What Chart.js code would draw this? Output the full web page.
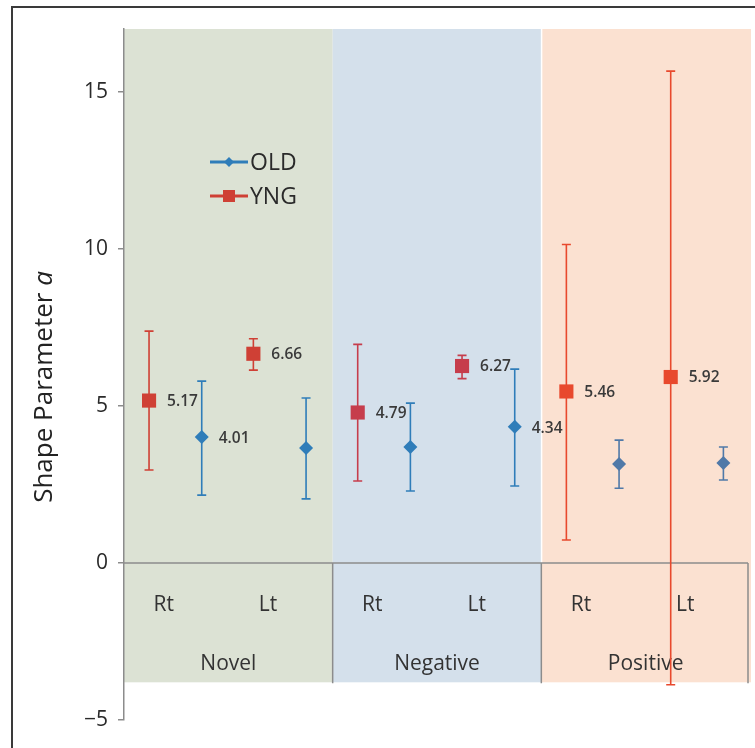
<!DOCTYPE html>
<html>
<head>
<meta charset="utf-8">
<style>
  html, body { margin: 0; padding: 0; background: #fff; }
  #wrap { width: 755px; height: 748px; }
</style>
<script src="https://cdn.jsdelivr.net/npm/chart.js@4/dist/chart.umd.min.js"></script>
</head>
<body>
<div id="wrap"><canvas id="chart" width="755" height="748"></canvas></div>
<script>
// groups and sides, two slots per group
const groups = ['Novel', 'Negative', 'Positive'];
const sides = ['Rt', 'Lt'];

// YNG (squares)
const yngMean = [5.17, 6.66, 4.79, 6.27, 5.46, 5.92];
const yngLow  = [2.96, 6.14, 2.61, 5.87, 0.73, -3.88];
const yngHigh = [7.38, 7.14, 6.96, 6.61, 10.14, 15.66];

// OLD (diamonds)
const oldMean = [4.01, 3.66, 3.69, 4.34, 3.15, 3.18];
const oldLow  = [2.16, 2.04, 2.29, 2.45, 2.38, 2.64];
const oldHigh = [5.79, 5.25, 5.09, 6.17, 3.91, 3.69];

// which points carry a value label
const yngLabelled = [0, 1, 2, 3, 4, 5];
const oldLabelled = [0, 3];

const yTicks = [-5, 0, 5, 10, 15];
const yMin = -5, yMax = 17;
const labelAreaBottom = -3.8;   // bands and category box end here

const bandColors = ['#dce2d4', '#d4e0eb', '#fbe1d1'];
const yngColors = ['#cf4035', '#cf4035', '#c63d4c', '#c63d4c', '#e8492d', '#e8492d'];
const oldColors = ['#2f7db9', '#2f7db9', '#2f7db9', '#2f7db9', '#5079a8', '#5079a8'];
const YNG_OFF = -0.26, OLD_OFF = 0.245;

const nSlots = groups.length * sides.length;
const slotX = i => i + 0.5;

const yngPoints = yngMean.map((v, i) => ({ x: slotX(i) + YNG_OFF, y: v }));
const oldPoints = oldMean.map((v, i) => ({ x: slotX(i) + OLD_OFF, y: v }));

const FONT = '"Open Sans", "Liberation Sans", sans-serif';

const decor = {
  id: 'decor',
  beforeDraw(chart) {
    const { ctx, chartArea: a, scales: { x, y } } = chart;
    ctx.save();
    // outer frame
    ctx.strokeStyle = '#3a3a3a';
    ctx.lineWidth = 2;
    ctx.strokeRect(12, 7, 800, 800);
    // group bands
    const top = y.getPixelForValue(yMax);
    const bot = y.getPixelForValue(labelAreaBottom);
    groups.forEach((g, gi) => {
      const l = x.getPixelForValue(gi * 2);
      const r = gi === groups.length - 1 ? a.right + 1 : x.getPixelForValue(gi * 2 + 2);
      ctx.fillStyle = bandColors[gi];
      ctx.fillRect(l, top, r - l, bot - top);
    });
    // thin white gap between negative and positive
    ctx.fillStyle = '#ffffff';
    ctx.fillRect(x.getPixelForValue(4) - 0.5, top, 1.5, y.getPixelForValue(0) - top);
    ctx.restore();
  },
  beforeDatasetsDraw(chart) {
    const { ctx, chartArea: a, scales: { x, y } } = chart;
    ctx.save();
    const y0 = y.getPixelForValue(0);
    const yb = y.getPixelForValue(labelAreaBottom);
    const right = x.getPixelForValue(nSlots) - 2;
    // category box lines
    ctx.strokeStyle = '#8c8c8c';
    ctx.lineWidth = 1.5;
    ctx.beginPath();
    ctx.moveTo(a.left, y0); ctx.lineTo(right, y0);
    for (let gi = 1; gi <= groups.length; gi++) {
      const px = gi === groups.length ? right : x.getPixelForValue(gi * 2);
      ctx.moveTo(px, y0); ctx.lineTo(px, yb + 1);
    }
    ctx.stroke();
    // side and group labels
    ctx.fillStyle = '#333';
    ctx.textAlign = 'center';
    ctx.textBaseline = 'middle';
    ctx.font = '21px ' + FONT;
    for (let i = 0; i < nSlots; i++) {
      ctx.fillText(sides[i % 2], x.getPixelForValue(slotX(i) - 0.12), y.getPixelForValue(-1.35));
    }
    groups.forEach((g, gi) => {
      ctx.fillText(g, x.getPixelForValue(gi * 2 + 1), y.getPixelForValue(-3.22));
    });
    // error bars
    const bars = (pts, low, high, colors) => {
      pts.forEach((p, i) => {
        const px = x.getPixelForValue(p.x);
        const t = y.getPixelForValue(high[i]);
        const b = y.getPixelForValue(low[i]);
        ctx.strokeStyle = colors[i];
        ctx.lineWidth = 1.6;
        ctx.beginPath();
        ctx.moveTo(px, t); ctx.lineTo(px, b);
        ctx.moveTo(px - 4.5, t); ctx.lineTo(px + 4.5, t);
        ctx.moveTo(px - 4.5, b); ctx.lineTo(px + 4.5, b);
        ctx.stroke();
      });
    };
    bars(yngPoints, yngLow, yngHigh, yngColors);
    bars(oldPoints, oldLow, oldHigh, oldColors);
    ctx.restore();
  },
  afterDatasetsDraw(chart) {
    const { ctx, chartArea: a, scales: { x, y } } = chart;
    ctx.save();
    // value labels
    ctx.fillStyle = '#3a3a3a';
    ctx.font = '600 15.5px ' + FONT;
    ctx.textAlign = 'left';
    ctx.textBaseline = 'middle';
    yngLabelled.forEach(i => {
      ctx.fillText(yngMean[i].toFixed(2), x.getPixelForValue(yngPoints[i].x) + 18, y.getPixelForValue(yngMean[i]) + 1);
    });
    oldLabelled.forEach(i => {
      ctx.fillText(oldMean[i].toFixed(2), x.getPixelForValue(oldPoints[i].x) + 17, y.getPixelForValue(oldMean[i]) + 2);
    });
    // legend
    const lx = a.left + 86, ly = a.top + 133, gap = 34;
    const entries = [
      { text: 'OLD', color: '#2f7db9', style: 'diamond' },
      { text: 'YNG', color: '#cf4035', style: 'square' }
    ];
    entries.forEach((e, k) => {
      const yy = ly + k * gap;
      ctx.strokeStyle = e.color;
      ctx.lineWidth = 3;
      ctx.beginPath(); ctx.moveTo(lx, yy); ctx.lineTo(lx + 38, yy); ctx.stroke();
      ctx.fillStyle = e.color;
      const cx = lx + 19;
      if (e.style === 'diamond') {
        ctx.beginPath();
        ctx.moveTo(cx, yy - 5); ctx.lineTo(cx + 5, yy); ctx.lineTo(cx, yy + 5); ctx.lineTo(cx - 5, yy);
        ctx.closePath(); ctx.fill();
      } else {
        ctx.fillRect(cx - 6, yy - 6, 12, 12);
      }
      ctx.fillStyle = '#2a2a2a';
      ctx.font = '23px ' + FONT;
      ctx.fillText(e.text, lx + 40, yy + 1);
    });
    // y title
    ctx.translate(45, 387);
    ctx.rotate(-Math.PI / 2);
    ctx.fillStyle = '#222';
    ctx.font = '26px ' + FONT;
    const main = 'Shape Parameter ';
    const w1 = ctx.measureText(main).width;
    ctx.font = 'italic 26px ' + FONT;
    const w2 = ctx.measureText('a').width;
    ctx.textAlign = 'left';
    ctx.font = '26px ' + FONT;
    ctx.fillText(main, -(w1 + w2) / 2, 0);
    ctx.font = 'italic 26px ' + FONT;
    ctx.fillText('a', -(w1 + w2) / 2 + w1, 0);
    ctx.restore();
  }
};

new Chart(document.getElementById('chart').getContext('2d'), {
  type: 'scatter',
  data: {
    datasets: [
      {
        label: 'YNG',
        data: yngPoints,
        pointStyle: 'rect',
        pointRadius: 10,
        pointBackgroundColor: yngColors,
        pointBorderWidth: 0,
        pointBorderColor: yngColors
      },
      {
        label: 'OLD',
        data: oldPoints,
        pointStyle: 'rectRot',
        pointRadius: 7,
        pointBackgroundColor: oldColors,
        pointBorderWidth: 0,
        pointBorderColor: oldColors
      }
    ]
  },
  options: {
    responsive: false,
    animation: false,
    layout: { autoPadding: false, padding: { top: 29, right: 5, bottom: 28, left: 0 } },
    plugins: { legend: { display: false }, tooltip: { enabled: false } },
    scales: {
      x: { type: 'linear', min: 0, max: nSlots, display: false },
      y: {
        min: yMin,
        max: yMax,
        afterFit(scale) { scale.width = 124; },
        afterBuildTicks(scale) { scale.ticks = yTicks.map(v => ({ value: v })); },
        border: { color: '#8c8c8c', width: 1.5 },
        grid: { drawOnChartArea: false, tickLength: 6, color: '#8c8c8c', lineWidth: 1.5 },
        ticks: {
          padding: 10,
          color: '#2a2a2a',
          font: { family: FONT, size: 21 },
          callback: v => (v < 0 ? '\u2212' + Math.abs(v) : String(v))
        }
      }
    }
  },
  plugins: [decor]
});
</script>
</body>
</html>
